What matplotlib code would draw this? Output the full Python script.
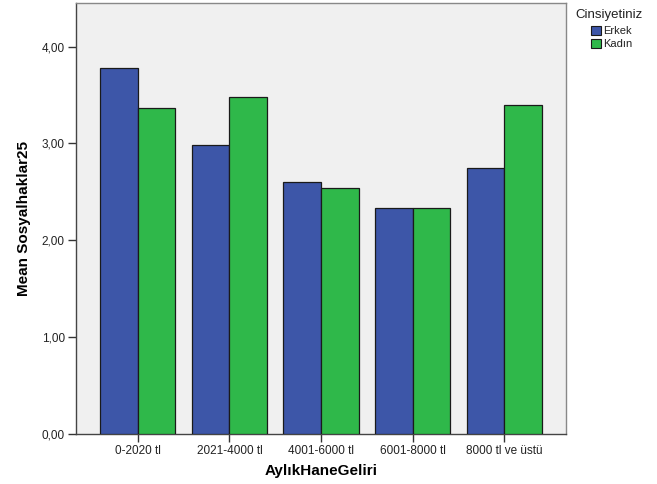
import numpy as np
import matplotlib
matplotlib.use("Agg")
import matplotlib.pyplot as plt
from matplotlib.patches import Patch

plt.rcParams['font.family'] = ['Liberation Sans', 'DejaVu Sans']

categories = ['0-2020 tl', '2021-4000 tl', '4001-6000 tl', '6001-8000 tl', '8000 tl ve üstü']
erkek = [3.78, 2.98, 2.60, 2.33, 2.75]
kadin = [3.37, 3.48, 2.54, 2.33, 3.40]
yticks = [0, 1, 2, 3, 4]
ytick_labels = ['0,00', '1,00', '2,00', '3,00', '4,00']

blue = '#3d56a8'
green = '#2fb84a'

fig = plt.figure(figsize=(6.57, 4.84), dpi=100)
ax = fig.add_axes([0.1157, 0.1033, 0.7458, 0.8906])
ax.set_facecolor('#f0f0f0')

x = np.arange(len(categories))
w = 0.41
ax.bar(x - w / 2, erkek, w, color=blue, edgecolor='#1a1a1a', linewidth=0.9, zorder=3)
ax.bar(x + w / 2, kadin, w, color=green, edgecolor='#1a1a1a', linewidth=0.9, zorder=3)

ax.set_xlim(-0.677, len(categories) - 1 + 0.677)
ax.set_ylim(0, 4.45)
ax.set_xticks(x)
ax.set_xticklabels(categories, fontsize=8.5, color='#222222')
ax.set_yticks(yticks)
ax.set_yticklabels(ytick_labels, fontsize=8.5, color='#222222')
ax.tick_params(axis='both', length=6, width=1, color='#333333', pad=2)

for s in ax.spines.values():
    s.set_color('#444444')
    s.set_linewidth(1)
ax.spines['top'].set_color('#888888')
ax.spines['right'].set_color('#888888')

ax.set_xlabel('AylıkHaneGeliri', fontsize=11, fontweight='bold', labelpad=5)
ax.set_ylabel('Mean Sosyalhaklar25', fontsize=11, fontweight='bold', labelpad=8)

# legend: title on its own, entries indented below
fig.text(0.876, 0.968, 'Cinsiyetiniz', fontsize=9.5, color='#222222', va='center', ha='left')
handles = [Patch(facecolor=blue, edgecolor='#1a1a1a', linewidth=0.8, label='Erkek'),
           Patch(facecolor=green, edgecolor='#1a1a1a', linewidth=0.8, label='Kadın')]
leg = fig.legend(handles=handles, loc='upper left',
                 bbox_to_anchor=(0.899, 0.947), frameon=False, fontsize=8,
                 handlelength=0.9, handleheight=0.9, handletextpad=0.2,
                 labelspacing=0.25, borderaxespad=0, borderpad=0)
for t in leg.get_texts():
    t.set_color('#222222')

fig.savefig('out.png', dpi=100)
